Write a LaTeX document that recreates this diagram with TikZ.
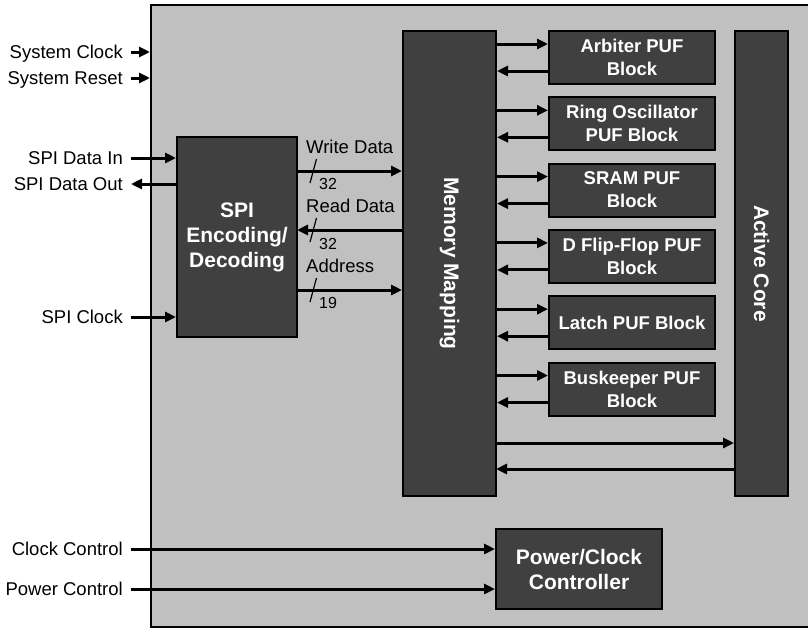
\documentclass[tikz,border=0pt]{standalone}
\usepackage{fontspec}
\setmainfont{Liberation Sans}
\usepackage{tikz}
\usetikzlibrary{calc,arrows.meta}
\definecolor{chipGray}{RGB}{192,192,192}
\definecolor{blockGray}{RGB}{64,64,64}

\begin{document}
\begin{tikzpicture}[x=1pt, y=-1pt,
  block/.style={draw=black, line width=2pt, fill=blockGray, text=white, inner sep=0pt,
    align=center, font=\fontsize{21}{25}\selectfont\bfseries},
  puf/.style={block, minimum width=166pt, minimum height=53pt,
    font=\fontsize{18.5}{23}\selectfont\bfseries},
  vtext/.style={rotate=-90, text=white, font=\fontsize{21}{25}\selectfont\bfseries},
  sig/.style={line width=3pt, -{Triangle[length=11pt,width=10pt]}},
  pin/.style={anchor=east, inner xsep=8pt, inner ysep=0pt, text height=13pt, text depth=0pt,
    font=\fontsize{18.5}{22}\selectfont},
  buslbl/.style={anchor=base west, inner sep=0pt, font=\fontsize{18.5}{22}\selectfont},
  busnum/.style={anchor=base west, inner sep=0pt, font=\fontsize{16}{18}\selectfont}]
\useasboundingbox (0,0) rectangle (808,630);

% chip outline
\node[draw=black, line width=2pt, fill=chipGray, inner sep=0pt,
  minimum width=664pt, minimum height=622pt] (chip) at (483,316) {};

% blocks
\node[block, minimum width=120pt, minimum height=200pt] (spi) at (237,237) {SPI\\Encoding/\\Decoding};
\node[block, minimum width=93pt, minimum height=465pt,
  label={[vtext]center:Memory Mapping}] (mem) at (449.5,263.5) {};
\node[puf] (arb) at (632,57.5) {Arbiter PUF\\Block};
\node[puf] (ro) at (632,123.8) {Ring Oscillator\\PUF Block};
\node[puf] (sram) at (632,190.1) {SRAM PUF\\Block};
\node[puf] (dff) at (632,256.4) {D Flip-Flop PUF\\Block};
\node[puf] (latch) at (632,322.7) {Latch PUF Block};
\node[puf] (busk) at (632,389) {Buskeeper PUF\\Block};
\node[block, minimum width=53pt, minimum height=465pt,
  label={[vtext]center:Active Core}] (core) at (761.5,263.5) {};
\node[block, minimum width=166pt, minimum height=80pt] (pwr) at (579,569) {Power/Clock\\Controller};

% pins
\node[pin] (sysclk) at (131,52) {System Clock};
\node[pin] (sysrst) at (131,78) {System Reset};
\node[pin] (din) at (131,158) {SPI Data In};
\node[pin] (dout) at (131,184) {SPI Data Out};
\node[pin] (spiclk) at (131,317) {SPI Clock};
\node[pin] (clkctl) at (131,549) {Clock Control};
\node[pin] (pwrctl) at (131,589) {Power Control};

\draw[sig] (sysclk.east) -- (sysclk.east -| chip.west);
\draw[sig] (sysrst.east) -- (sysrst.east -| chip.west);
\draw[sig] (din.east) -- (din.east -| spi.west);
\draw[sig] (dout.east -| spi.west) -- (dout.east);
\draw[sig] (spiclk.east) -- (spiclk.east -| spi.west);
\draw[sig] (clkctl.east) -- (clkctl.east -| pwr.west);
\draw[sig] (pwrctl.east) -- (pwrctl.east -| pwr.west);

% buses between SPI and memory map
\coordinate (wd) at (297,171);
\coordinate (rd) at (297,230);
\coordinate (ad) at (297,290);
\draw[sig] (wd) -- (wd -| mem.west);
\draw[sig] (rd -| mem.west) -- (rd);
\draw[sig] (ad) -- (ad -| mem.west);
\node[buslbl] (wdl) at (306,153) {Write Data};
\node[buslbl] (rdl) at (306,212) {Read Data};
\node[buslbl] (adl) at (306,272) {Address};
\node[busnum] (wdn) at (319,189) {32};
\node[busnum] (rdn) at (319,249) {32};
\node[busnum] (adn) at (319,308) {19};
\draw[line width=1.2pt] (310,183) -- (316.5,159);
\draw[line width=1.2pt] (310,242) -- (316.5,218);
\draw[line width=1.2pt] (310,302) -- (316.5,278);

% memory map <-> PUF blocks
\draw[sig] ($(mem.east |- arb)+(0,-13.5)$) -- ($(arb.west)+(0,-13.5)$);
\draw[sig] ($(arb.west)+(0,13.5)$) -- ($(mem.east |- arb)+(0,13.5)$);
\draw[sig] ($(mem.east |- ro)+(0,-13.5)$) -- ($(ro.west)+(0,-13.5)$);
\draw[sig] ($(ro.west)+(0,13.5)$) -- ($(mem.east |- ro)+(0,13.5)$);
\draw[sig] ($(mem.east |- sram)+(0,-13.5)$) -- ($(sram.west)+(0,-13.5)$);
\draw[sig] ($(sram.west)+(0,13.5)$) -- ($(mem.east |- sram)+(0,13.5)$);
\draw[sig] ($(mem.east |- dff)+(0,-13.5)$) -- ($(dff.west)+(0,-13.5)$);
\draw[sig] ($(dff.west)+(0,13.5)$) -- ($(mem.east |- dff)+(0,13.5)$);
\draw[sig] ($(mem.east |- latch)+(0,-13.5)$) -- ($(latch.west)+(0,-13.5)$);
\draw[sig] ($(latch.west)+(0,13.5)$) -- ($(mem.east |- latch)+(0,13.5)$);
\draw[sig] ($(mem.east |- busk)+(0,-13.5)$) -- ($(busk.west)+(0,-13.5)$);
\draw[sig] ($(busk.west)+(0,13.5)$) -- ($(mem.east |- busk)+(0,13.5)$);

% memory map <-> active core
\coordinate (tocore) at (496,443);
\coordinate (fromcore) at (496,469);
\draw[sig] (tocore) -- (tocore -| core.west);
\draw[sig] (fromcore -| core.west) -- (fromcore);
\end{tikzpicture}
\end{document}
